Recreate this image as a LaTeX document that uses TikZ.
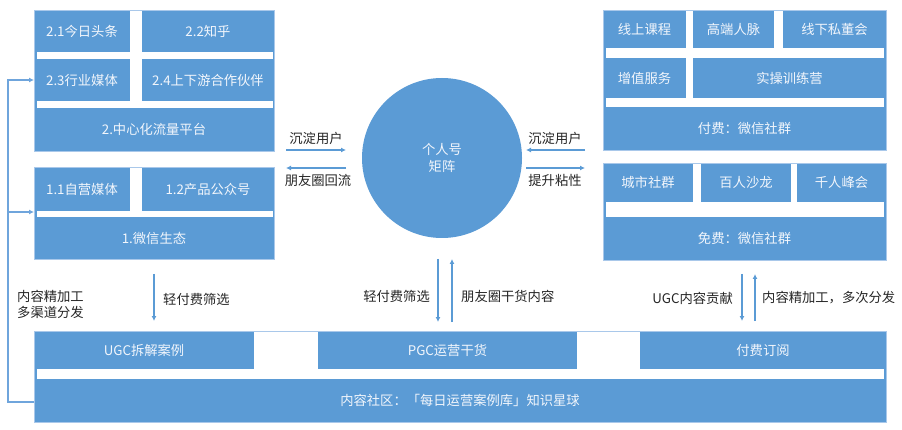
\documentclass[tikz,border=0pt]{standalone}
\usepackage{fontspec}
\setmainfont{Noto Sans CJK SC}
\usetikzlibrary{arrows.meta}
\definecolor{myblue}{HTML}{5B9BD5}
\definecolor{myedge}{HTML}{A9C8EA}
\definecolor{boxtxt}{HTML}{F2F6FC}
\definecolor{lbltxt}{HTML}{262626}
\definecolor{fbline}{HTML}{6FA5DC}
\begin{document}
\begin{tikzpicture}[x=1pt,y=-1pt,
  grpfill/.style={fill=myblue},
  grpedge/.style={draw=myedge,line width=0.8pt},
  gapw/.style={fill=white},
  cell/.style={text=boxtxt,font=\fontsize{13.3}{17}\selectfont,inner sep=0pt,align=center},
  lbl/.style={text=lbltxt,font=\fontsize{13.3}{16}\selectfont,inner sep=0pt,align=left},
  arr/.style={draw=myblue,line width=1.1pt,-{Latex[length=5pt,width=5pt]}},
  fbarr/.style={draw=fbline,line width=1.3pt,-{Latex[length=5pt,width=5pt]}},
]
\useasboundingbox[fill=white] (0,0) rectangle (902,430);

% ---------- top-left group ----------
\fill[grpfill] (34,10) rectangle (274,151);
\fill[gapw] (130,10) rectangle (142,101);
\fill[gapw] (36.5,52) rectangle (272.5,59);
\fill[gapw] (36.5,101) rectangle (272.5,108);
\draw[grpedge] (34,10) rectangle (274,151);
\node[cell] (t21) at (82,31) {2.1今日头条};
\node[cell] (t22) at (208,31) {2.2知乎};
\node[cell] (t23) at (82,80) {2.3行业媒体};
\node[cell] (t24) at (208,80) {2.4上下游合作伙伴};
\node[cell] (t2) at (154,129.5) {2.中心化流量平台};

% ---------- lower-left group ----------
\fill[grpfill] (34,167) rectangle (274,259);
\fill[gapw] (130,167) rectangle (142,211);
\fill[gapw] (36.5,211) rectangle (272.5,217);
\draw[grpedge] (34,167) rectangle (274,259);
\node[cell] (t11) at (82,189) {1.1自营媒体};
\node[cell] (t12) at (208,189) {1.2产品公众号};
\node[cell] (t1) at (154,238) {1.微信生态};

% ---------- top-right group ----------
\fill[grpfill] (603,10) rectangle (886,150);
\fill[gapw] (686,10) rectangle (693,98);
\fill[gapw] (774,10) rectangle (783,48);
\fill[gapw] (605.5,48) rectangle (884,58);
\fill[gapw] (605.5,98) rectangle (884,107);
\draw[grpedge] (603,10) rectangle (886,150);
\node[cell] (r1) at (644.5,29) {线上课程};
\node[cell] (r2) at (733.5,29) {高端人脉};
\node[cell] (r3) at (834.5,29) {线下私董会};
\node[cell] (r4) at (644.5,78) {增值服务};
\node[cell] (r5) at (789.5,78) {实操训练营};
\node[cell] (rp) at (744.5,128.5) {付费：微信社群};

% ---------- lower-right group ----------
\fill[grpfill] (603,163) rectangle (886,260);
\fill[gapw] (693,163) rectangle (701,202);
\fill[gapw] (791,163) rectangle (797,202);
\fill[gapw] (605.5,202) rectangle (884,217);
\draw[grpedge] (603,163) rectangle (886,260);
\node[cell] (s1) at (648,182.5) {城市社群};
\node[cell] (s2) at (746,182.5) {百人沙龙};
\node[cell] (s3) at (841.5,182.5) {千人峰会};
\node[cell] (rf) at (744.5,238.5) {免费：微信社群};

% ---------- bottom group ----------
\fill[grpfill] (34,331) rectangle (886,422);
\fill[gapw] (254,331) rectangle (318,369);
\fill[gapw] (577,331) rectangle (640,369);
\fill[gapw] (36.5,369) rectangle (884,379);
\draw[grpedge] (34,331) rectangle (886,422);
\node[cell] (b1) at (144,350) {UGC拆解案例};
\node[cell] (b2) at (447.5,350) {PGC运营干货};
\node[cell] (b3) at (763,350) {付费订阅};
\node[cell] (bc) at (460,400.5) {内容社区：「每日运营案例库」知识星球};

% ---------- circle ----------
\node[circle,fill=myblue,minimum size=160pt,inner sep=0pt,text=boxtxt,
      font=\fontsize{13.3}{17}\selectfont,align=center] (me) at (442,158) {个人号\\矩阵};

% ---------- horizontal arrows near circle ----------
\coordinate (lA) at (286,150); \coordinate (lB) at (346,150);
\coordinate (lC) at (346,168); \coordinate (lD) at (286,168);
\coordinate (rA) at (585,150); \coordinate (rB) at (526,150);
\coordinate (rC) at (526,168); \coordinate (rD) at (585,168);
\draw[arr] (lA) -- (lB);
\draw[arr] (lC) -- (lD);
\draw[arr] (rA) -- (rB);
\draw[arr] (rC) -- (rD);
\node[lbl] (l1) at (316,138) {沉淀用户};
\node[lbl] (l2) at (318,180.5) {朋友圈回流};
\node[lbl] (l3) at (555,138) {沉淀用户};
\node[lbl] (l4) at (555,180.5) {提升粘性};

% ---------- vertical arrows ----------
\coordinate (vA1) at (154,274); \coordinate (vA2) at (154,321);
\coordinate (vB1) at (438,259); \coordinate (vB2) at (438,322);
\coordinate (vC1) at (452,322); \coordinate (vC2) at (452,259);
\coordinate (vD1) at (742,274); \coordinate (vD2) at (742,321);
\coordinate (vE1) at (755,321); \coordinate (vE2) at (755,274);
\draw[arr] (vA1) -- (vA2);
\draw[arr] (vB1) -- (vB2);
\draw[arr] (vC1) -- (vC2);
\draw[arr] (vD1) -- (vD2);
\draw[arr] (vE1) -- (vE2);
\node[lbl,anchor=west] (m1) at (163,299) {轻付费筛选};
\node[lbl,anchor=east] (m2) at (430,296) {轻付费筛选};
\node[lbl,anchor=west] (m3) at (461,296) {朋友圈干货内容};
\node[lbl,anchor=east] (m4) at (733,298) {UGC内容贡献};
\node[lbl,anchor=west] (m5) at (762,298) {内容精加工，多次分发};
\node[lbl,anchor=west] (m6) at (17,296) {内容精加工};
\node[lbl,anchor=west] (m7) at (17,312.5) {多渠道分发};

% ---------- feedback loop ----------
\coordinate (fS) at (34,402);
\coordinate (fC1) at (8,402);
\coordinate (fC2) at (8,80);
\coordinate (fT) at (34,80);
\coordinate (fM) at (8,212);
\coordinate (fMT) at (34,212);
\draw[fbarr,line join=miter] (fS) -- (fC1) -- (fC2) -- (fT);
\draw[fbarr] (fM) -- (fMT);
\end{tikzpicture}
\end{document}
